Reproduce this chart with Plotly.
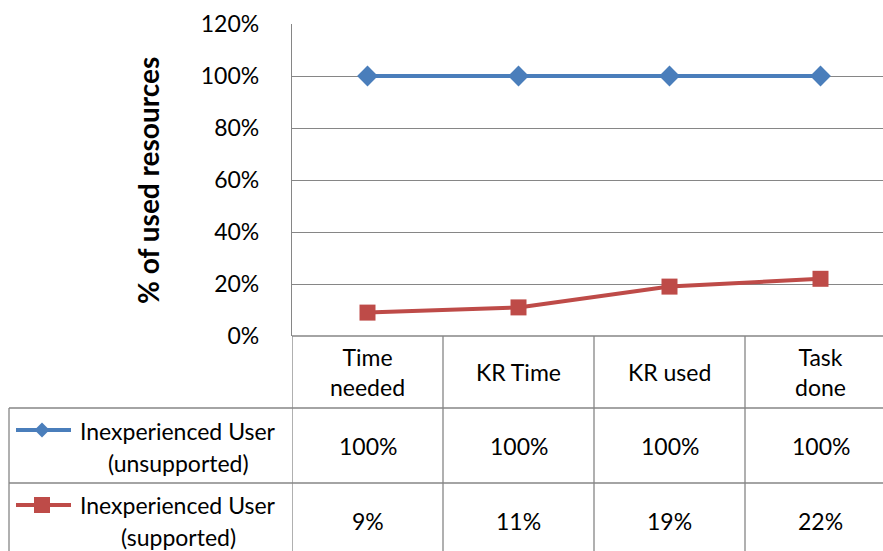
import plotly.graph_objects as go

categories = ["Time<br>needed", "KR Time", "KR used", "Task<br>done"]
series_names = ["Inexperienced User", "Inexperienced User"]
series_sub = ["(unsupported)", "(supported)"]
unsupported = [100, 100, 100, 100]
supported = [9, 11, 19, 22]
y_ticks = [0, 20, 40, 60, 80, 100, 120]

W, H = 883, 551
L, R, T, B = 292, 0, 24, 215
PW = W - L - R
PH = H - T - B
FONT = "Lato"
GRID = "#868686"
BLUE = "#4A7EBB"
RED = "#BE4B48"

def px_x(x):
    return (x - L) / PW

def px_y(y):
    return (H - B - y) / PH

xs = list(range(len(categories)))

fig = go.Figure()
fig.add_trace(go.Scatter(x=xs, y=unsupported, mode="lines+markers",
                         line=dict(color=BLUE, width=4),
                         marker=dict(symbol="diamond", size=16, color=BLUE),
                         showlegend=False, hoverinfo="skip"))
fig.add_trace(go.Scatter(x=xs, y=supported, mode="lines+markers",
                         line=dict(color=RED, width=4),
                         marker=dict(symbol="square", size=16, color=RED),
                         showlegend=False, hoverinfo="skip"))

shapes = []
line_style = dict(color=GRID, width=1.3)
for b in [-0.5, 0.5, 1.5, 2.5]:
    shapes.append(dict(type="line", xref="x", yref="paper", x0=b, x1=b,
                       y0=0, y1=px_y(H + 2), line=line_style))
for yy in [408, 483]:
    shapes.append(dict(type="line", xref="paper", yref="paper", x0=px_x(9), x1=1,
                       y0=px_y(yy), y1=px_y(yy), line=line_style))
shapes.append(dict(type="line", xref="paper", yref="paper", x0=px_x(9), x1=px_x(9),
                   y0=px_y(408), y1=px_y(H + 2), line=line_style))
shapes.append(dict(type="line", xref="paper", yref="paper", x0=0, x1=1,
                   y0=0, y1=0, line=line_style))

def diamond(cx, cy, r):
    return f"M {px_x(cx-r)} {px_y(cy)} L {px_x(cx)} {px_y(cy-r)} L {px_x(cx+r)} {px_y(cy)} L {px_x(cx)} {px_y(cy+r)} Z"

def square(cx, cy, r):
    return f"M {px_x(cx-r)} {px_y(cy-r)} L {px_x(cx+r)} {px_y(cy-r)} L {px_x(cx+r)} {px_y(cy+r)} L {px_x(cx-r)} {px_y(cy+r)} Z"

key_rows = [(430, BLUE, diamond, 7.5), (505, RED, square, 8)]
for cy, col, fn, r in key_rows:
    shapes.append(dict(type="line", xref="paper", yref="paper", x0=px_x(16), x1=px_x(71),
                       y0=px_y(cy), y1=px_y(cy), line=dict(color=col, width=4)))
    shapes.append(dict(type="path", xref="paper", yref="paper", path=fn(42, cy, r),
                       fillcolor=col, line=dict(color=col, width=0)))

ann = []
tf = dict(family=FONT, size=23, color="#000000")
for i, c in enumerate(categories):
    ann.append(dict(x=i, y=px_y(372), xref="x", yref="paper", text=c, showarrow=False,
                    font=tf, xanchor="center", yanchor="middle"))
row_y = [(431, 463), (505, 537)]
for (y1, y2), n, s in zip(row_y, series_names, series_sub):
    ann.append(dict(x=px_x(178), y=px_y(y1), xref="paper", yref="paper", text=n,
                    showarrow=False, font=tf, xanchor="center", yanchor="middle"))
    ann.append(dict(x=px_x(178), y=px_y(y2), xref="paper", yref="paper", text=s,
                    showarrow=False, font=tf, xanchor="center", yanchor="middle"))
for vals, yy in [(unsupported, 446), (supported, 521)]:
    for i, v in enumerate(vals):
        ann.append(dict(x=i, y=px_y(yy), xref="x", yref="paper", text=f"{v}%",
                        showarrow=False, font=tf, xanchor="center", yanchor="middle"))
ann.append(dict(x=px_x(148), y=px_y(181), xref="paper", yref="paper", text="<b>% of used resources</b>",
                textangle=-90, showarrow=False, font=dict(family=FONT, size=28, color="#000000"),
                xanchor="center", yanchor="middle"))

fig.update_layout(
    width=W, height=H, margin=dict(l=L, r=R, t=T, b=B),
    paper_bgcolor="white", plot_bgcolor="white",
    xaxis=dict(range=[-0.5, 3.5 - 13 / 151], showgrid=False, showticklabels=False,
               zeroline=False, showline=False, fixedrange=True),
    yaxis=dict(range=[0, 120], tickvals=y_ticks, ticktext=[f"{t}%" for t in y_ticks],
               showgrid=True, gridcolor=GRID, gridwidth=1.3, zeroline=False,
               showline=True, linecolor=GRID, linewidth=1.3,
               tickfont=dict(family=FONT, size=23, color="#000000"),
               ticks="", ticklabelstandoff=27, fixedrange=True),
    shapes=shapes, annotations=ann,
)

fig.write_html("out.html", config={"displayModeBar": False},
               post_script="document.body.style.margin='0';document.body.style.overflow='hidden';")
